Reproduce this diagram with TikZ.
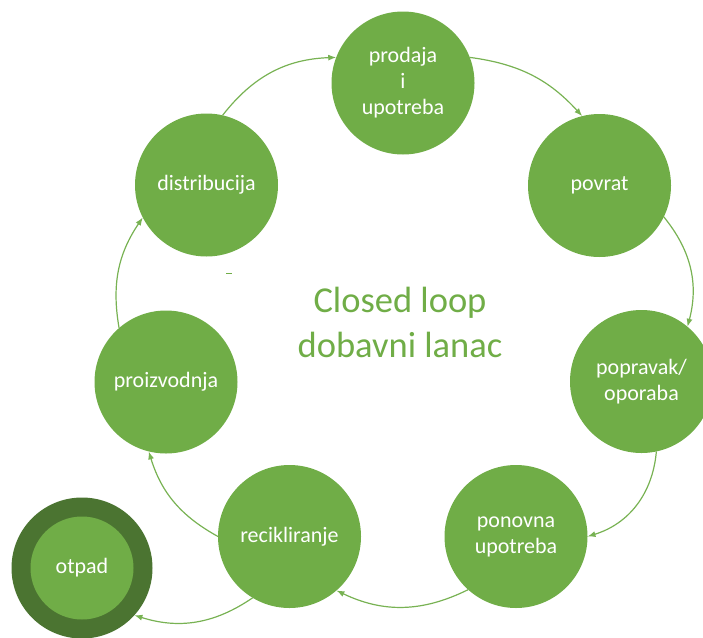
\documentclass[tikz,border=0pt]{standalone}
\usepackage{fontspec}
\setmainfont{Carlito}
\usetikzlibrary{arrows.meta}
\definecolor{gr}{HTML}{70AD47}
\definecolor{dkgr}{HTML}{4B7431}
\definecolor{arr}{HTML}{78B253}
\tikzset{
  stage/.style={circle, fill=gr, minimum size=143pt, inner sep=0pt, outer sep=0pt,
    text=white, align=center, font=\fontsize{22}{26}\selectfont},
  flow/.style={draw=arr, line width=1.2pt, -{Latex[length=8pt,width=6pt]}},
}
\begin{document}
\begin{tikzpicture}[x=1pt,y=-1pt]
\useasboundingbox (0,0) rectangle (703,637);
\node[stage] (prod) at (403,83) {prodaja\\i\\upotreba};
\node[stage] (povrat) at (599.5,185.5) {povrat};
\node[stage] (pop) at (641.5,381.5) {popravak/\\oporaba};
\node[stage] (pon) at (516,536.5) {ponovna\\upotreba};
\node[stage] (rec) at (289.5,536.5) {recikliranje};
\node[stage] (proiz) at (166,382) {proizvodnja};
\node[stage] (dist) at (206.5,185) {distribucija};
\node[circle, fill=dkgr, minimum size=141pt, inner sep=0pt, outer sep=0pt] (otpadring) at (82,568) {};
\node[stage, minimum size=103pt] (otpad) at (82,568) {otpad};
\node[text=gr, align=center, font=\fontsize{36.5}{45}\selectfont] (title) at (400,322) {Closed loop\\dobavni lanac};
\draw[flow] (dist.77) to[bend left=25] (prod.159);
\draw[flow] (prod.21) to[bend left=20] (povrat.104);
\draw[flow] (povrat.-26) to[bend left=27] (pop.50);
\draw[flow] (pop.-78) to[bend left=34] (pon.0);
\draw[flow] (pon.228) to[bend left=26] (rec.-49);
\draw[flow] (rec.239) to[bend left=26] (otpadring.-42);
\draw[flow] (rec.180) to[bend left=22] (proiz.-104);
\draw[flow] (proiz.131) to[bend left=22] (dist.207);
\draw[gr, line width=1pt] (226,273.5) -- (232,273.5);
\end{tikzpicture}
\end{document}
